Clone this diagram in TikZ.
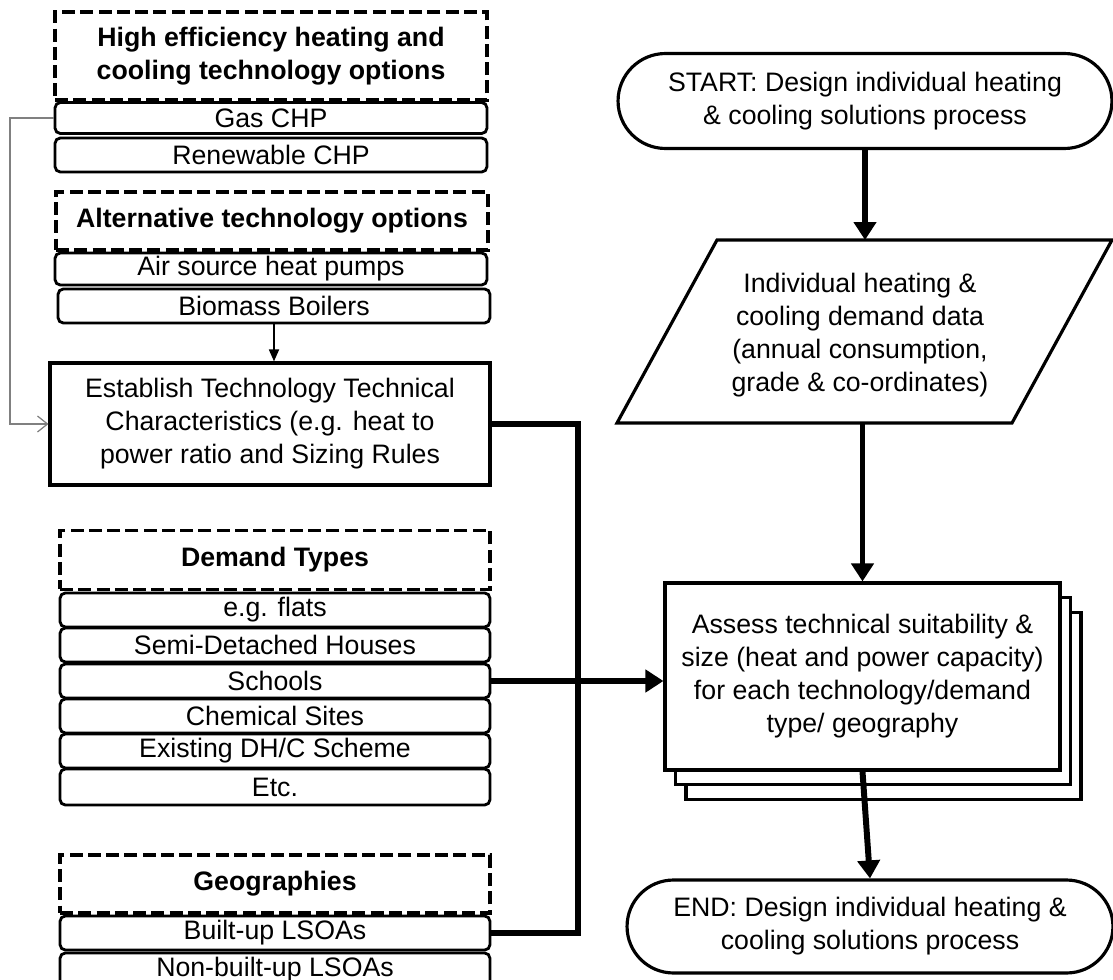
\documentclass[tikz,border=0pt]{standalone}
\usepackage{fontspec}
\setmainfont{Liberation Sans}
\usetikzlibrary{shapes,calc,positioning,arrows.meta,shapes.geometric,shapes.misc,shadows}

\begin{document}
\begin{tikzpicture}[
            x=0.02cm, y=-0.02cm,
            font=\fontsize{15.2}{18.8}\selectfont,
            header_box/.style={rectangle, draw, line width=2pt, dash pattern=on 7.4pt off 3pt, minimum width=8.64cm, minimum height=#1, inner sep=0pt, align=center, font=\fontsize{15.2}{18.8}\selectfont\bfseries},
            item_box/.style={rectangle, draw, rounded corners=3pt, line width=1.6pt, minimum width=8.64cm, minimum height=#1, inner sep=0pt},
            item_box/.default=0.68cm,
            process_box/.style={rectangle, draw, line width=1.8pt, fill=white, align=center},
            page_copy/.style={copy shadow={shadow xshift=#1, shadow yshift=-1.4*#1, draw, fill=white, line width=1.8pt}},
            term_node/.style={rounded rectangle, draw, line width=1.8pt, align=center, inner sep=0pt},
            data_shape/.style={draw, line width=1.8pt, line join=miter},
            thick_arrow/.style={line width=3.4pt, -{Triangle[length=0.36cm, width=0.44cm]}},
            bus_line/.style={line width=3.4pt, line join=miter},
            thin_arrow/.style={line width=1pt, -{Triangle[length=0.24cm, width=0.2cm]}},
            feed_line/.style={line width=0.7pt, gray, -{Straight Barb[length=0.2cm, width=0.32cm]}}
        ]
            \useasboundingbox (0,0) rectangle (1113,980);

            % technology options
            \node[header_box=1.76cm] (hdr_high) at (271,56) {High efficiency heating and\\cooling technology options};
            \node[item_box=0.62cm] (gas) at (271,118) {Gas CHP};
            \node[item_box] (renew) at (271,155) {Renewable CHP};
            \node[header_box=1.16cm] (hdr_alt) at (272,221) {Alternative technology options};
            \node[item_box=0.64cm] (air) at (271,269) {Air source heat pumps};
            \node[item_box] (bio) at (274,306) {Biomass Boilers};
            \node[process_box, minimum width=8.8cm, minimum height=2.44cm] (est) at (270,424)
                {Establish Technology Technical\\Characteristics (e.g. heat to\\power ratio and Sizing Rules};

            % demand types
            \node[header_box=1.18cm, minimum width=8.6cm] (hdr_dem) at (275,560) {Demand Types};
            \node[item_box, minimum width=8.6cm] (flats) at (275,610) {e.g. flats};
            \node[item_box, minimum width=8.6cm] (semi) at (275,645) {Semi-Detached Houses};
            \node[item_box, minimum width=8.6cm] (schools) at (275,681) {Schools};
            \node[item_box, minimum width=8.6cm] (chem) at (275,716) {Chemical Sites};
            \node[item_box, minimum width=8.6cm] (exist) at (275,751) {Existing DH/C Scheme};
            \node[item_box=0.72cm, minimum width=8.6cm] (etc) at (275,787) {Etc.};

            % geographies
            \node[header_box=1.16cm, minimum width=8.6cm] (hdr_geo) at (275,884) {Geographies};
            \node[item_box, minimum width=8.6cm] (built) at (275,933) {Built-up LSOAs};
            \node[item_box, minimum width=8.6cm] (nonbuilt) at (275,970) {Non-built-up LSOAs};

            % main process
            \node[term_node, minimum width=9.88cm, minimum height=1.9cm] (start) at (865,101)
                {START: Design individual heating\\\& cooling solutions process};
            \coordinate (data_tl) at (717,240);
            \coordinate (data_tr) at (1112,240);
            \coordinate (data_br) at (1012,423);
            \coordinate (data_bl) at (617,423);
            \draw[data_shape] (data_tl) -- (data_tr) -- (data_br) -- (data_bl) -- cycle;
            \node[align=center] (data) at (860,335)
                {Individual heating \&\\cooling demand data\\(annual consumption,\\grade \& co-ordinates)};
            \node[process_box, minimum width=7.9cm, minimum height=3.74cm,
                  page_copy=0.42cm, page_copy=0.21cm] (assess) at (862.5,676.5)
                {Assess technical suitability \&\\size (heat and power capacity)\\for each technology/demand\\type/ geography};
            \node[term_node, minimum width=9.72cm, minimum height=1.86cm] (end) at (870,926.5)
                {END: Design individual heating \&\\cooling solutions process};

            % connectors
            \coordinate (feed) at (10,0);
            \coordinate (bus) at (578,0);
            \draw[feed_line] (gas.west) -- (gas.west -| feed) |- (est.west);
            \draw[thin_arrow] (bio.south) -- (bio.south |- est.north);
            \draw[bus_line] (est.east) -- (est.east -| bus) |- (built.east);
            \draw[thick_arrow] (schools.east) -- (schools.east -| assess.west);
            \draw[thick_arrow] (start.south) -- (start.south |- data_tl);
            \draw[thick_arrow] (assess.north |- data_bl) -- (assess.north);
            \draw[thick_arrow] (assess.south) -- (end.north);
        \end{tikzpicture}
\end{document}
